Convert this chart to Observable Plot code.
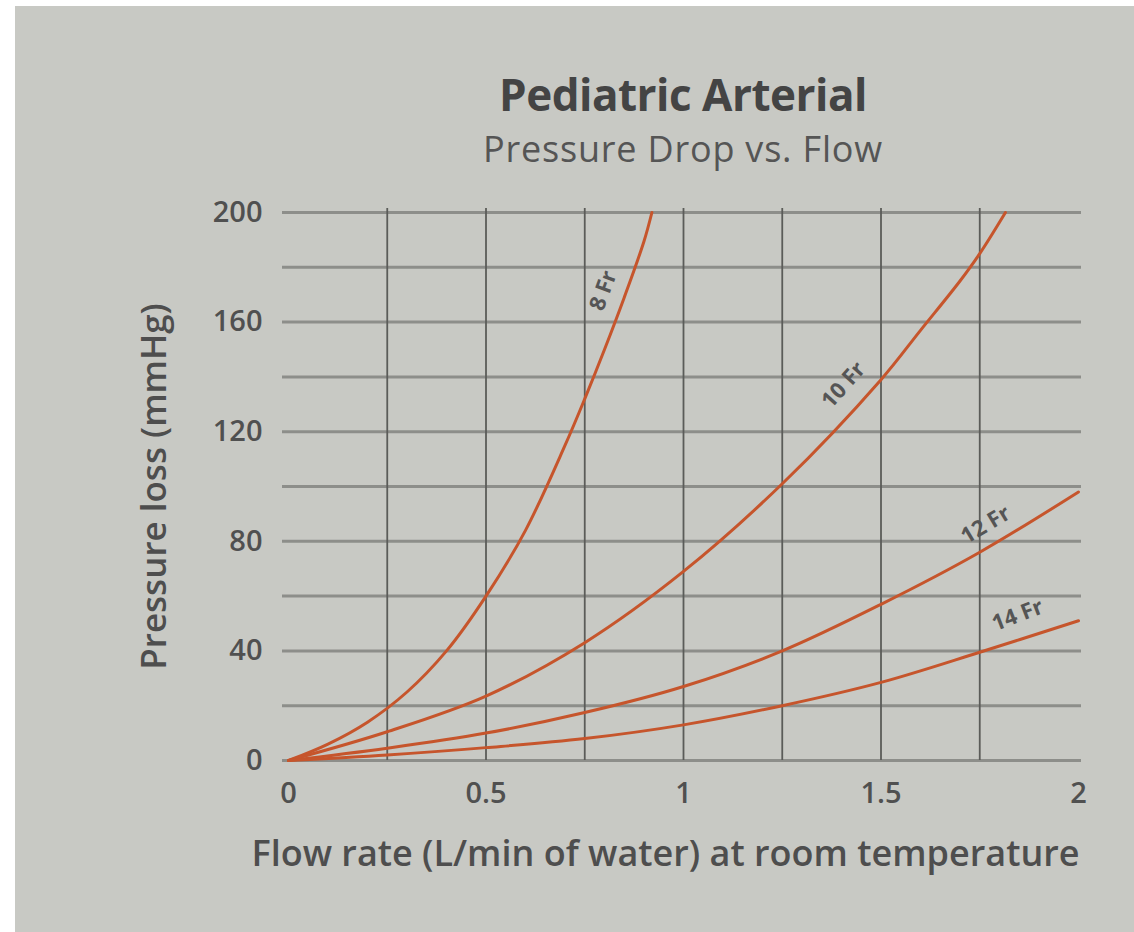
<!DOCTYPE html>
<html>
<head>
<meta charset="utf-8">
<script src="https://cdn.jsdelivr.net/npm/d3@7"></script>
<script src="https://cdn.jsdelivr.net/npm/@observablehq/plot@0.6"></script>
<style>
  html, body { margin: 0; padding: 0; background: #ffffff; }
  #page {
    position: absolute; left: 15px; top: 6px; width: 1119px; height: 926px;
    background: #c8c9c4; overflow: hidden; font-family: "Open Sans", sans-serif;
  }
  #title {
    position: absolute; left: 0; width: 1336px; top: 66px; text-align: center;
    font-size: 44px; line-height: 44px; font-weight: 700; color: #444444; letter-spacing: -0.5px;
  }
  #subtitle {
    position: absolute; left: 0; width: 1336px; top: 125px; text-align: center;
    font-size: 36px; line-height: 36px; font-weight: 500; color: #555555; letter-spacing: 0.8px;
  }
  #chart { position: absolute; left: 0; top: 184px; }
</style>
</head>
<body>
<div id="page">
  <div id="title">Pediatric Arterial</div>
  <div id="subtitle">Pressure Drop vs. Flow</div>
  <div id="chart"></div>
</div>
<script>
// Curve data (flow in L/min, pressure loss in mmHg)
const flow8Fr  = [0, 0.1, 0.2, 0.3, 0.4, 0.5, 0.6, 0.7, 0.75, 0.8, 0.85, 0.9, 0.92];
const loss8Fr  = [0, 6, 14, 25, 40, 60, 84, 115, 132, 150, 169, 189.5, 200];
const flow10Fr = [0, 0.25, 0.5, 0.75, 1.0, 1.25, 1.5, 1.6, 1.7, 1.75, 1.815];
const loss10Fr = [0, 10.5, 23.5, 43, 69, 101, 139, 157, 175, 185, 200];
const flow12Fr = [0, 0.25, 0.5, 0.75, 1.0, 1.25, 1.5, 1.75, 2.0];
const loss12Fr = [0, 4.5, 10, 17.5, 27, 40, 57, 76, 98];
const flow14Fr = [0, 0.25, 0.5, 0.75, 1.0, 1.25, 1.5, 1.75, 2.0];
const loss14Fr = [0, 2, 4.7, 8, 13, 20, 28.5, 39.5, 51];

const seriesNames = ["8 Fr", "10 Fr", "12 Fr", "14 Fr"];
const xTicks = [0, 0.5, 1, 1.5, 2];
const xGrid = [0.25, 0.5, 0.75, 1, 1.25, 1.5, 1.75];
const yTicks = [0, 40, 80, 120, 160, 200];
const yGrid = [0, 20, 40, 60, 80, 100, 120, 140, 160, 180, 200];
const xLabel = "Flow rate (L/min of water) at room temperature";
const yLabel = "Pressure loss (mmHg)";

// label anchors (data units) and rotation along each curve
const labelFlow = [0.797, 1.405, 1.765, 1.846];
const labelLoss = [171.5, 137, 86, 53];
const labelAngle = [-70, -48, -31, -21];

const flows = [flow8Fr, flow10Fr, flow12Fr, flow14Fr];
const losses = [loss8Fr, loss10Fr, loss12Fr, loss14Fr];
const series = seriesNames.flatMap((name, i) =>
  flows[i].map((f, j) => ({name, flow: f, loss: losses[i][j]})));
const curveLabels = seriesNames.map((name, i) =>
  ({text: name, flow: labelFlow[i], loss: labelLoss[i], angle: labelAngle[i]}));

const chart = Plot.plot({
  width: 1119,
  height: 742,
  marginLeft: 273,
  marginRight: 56,
  marginTop: 22,
  marginBottom: 172,
  style: {background: "transparent", fontFamily: "Open Sans, sans-serif", color: "#4e4e4e", overflow: "visible"},
  x: {domain: [0, 2]},
  y: {domain: [0, 200]},
  marks: [
    Plot.ruleY(yGrid, {stroke: "#8d8e8a", strokeWidth: 3, insetLeft: -6, insetRight: -3}),
    Plot.ruleX(xGrid, {stroke: "#5b5c59", strokeWidth: 1.8, insetTop: -4}),
    Plot.line(series, {x: "flow", y: "loss", z: "name", stroke: "#c6552c", strokeWidth: 3, curve: "catmull-rom"}),
    Plot.axisY(yTicks, {tickSize: 0, tickPadding: 26, fontSize: 29, fontWeight: 600, letterSpacing: 2.5, label: null, fill: "#505050"}),
    Plot.axisX(xTicks, {tickSize: 0, tickPadding: 22, fontSize: 29, fontWeight: 600, letterSpacing: 2, label: null, fill: "#505050", tickFormat: d => String(d)}),
    Plot.text([yLabel], {frameAnchor: "left", dx: -134, rotate: -90, textAnchor: "middle", fontSize: 35, fontWeight: 600, fill: "#4e4e4e", letterSpacing: 0}),
    Plot.text([xLabel], {frameAnchor: "bottom", dy: 105, dx: -18, fontSize: 36, fontWeight: 600, fill: "#4e4e4e", letterSpacing: -0.3}),
    Plot.text(curveLabels, {x: "flow", y: "loss", text: "text", rotate: "angle", fontSize: 22, fontWeight: 700, fill: "#555"})
  ]
});
document.getElementById("chart").appendChild(chart);
</script>
</body>
</html>
